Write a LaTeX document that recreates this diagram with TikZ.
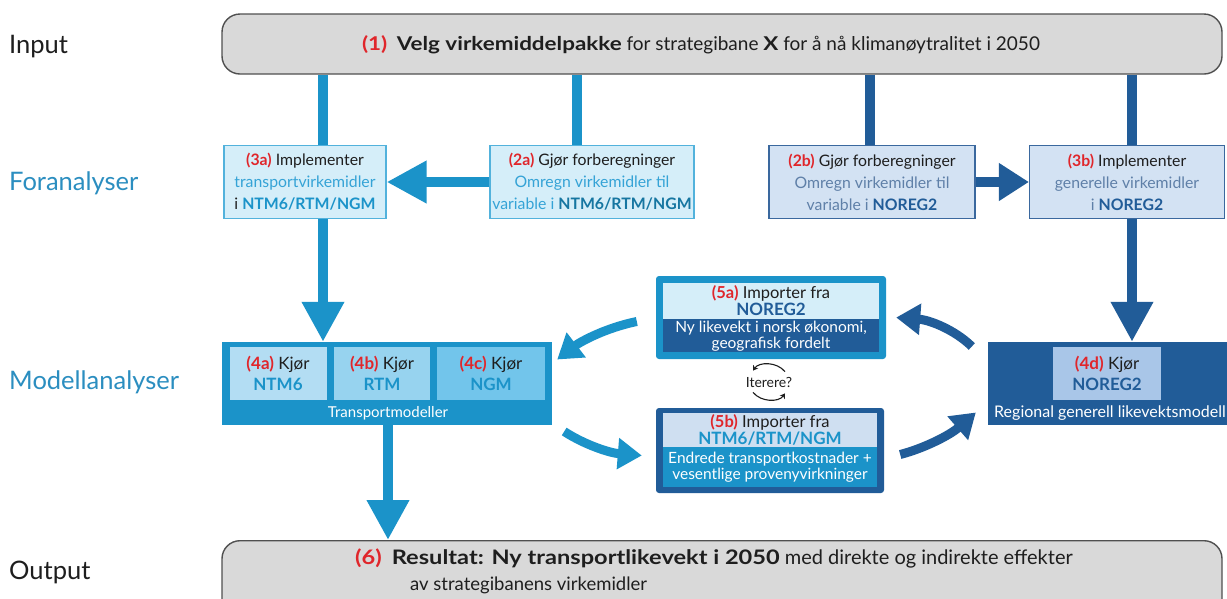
\documentclass[tikz,border=0pt]{standalone}
\usepackage{fontspec}
\setmainfont{Lato}
\newfontfamily\widefont{Lato}[FakeStretch=1.18]
\usetikzlibrary{arrows.meta,calc}
\definecolor{cyb}{HTML}{1B93C9}
\definecolor{dkb}{HTML}{215C98}
\definecolor{ltc}{HTML}{D5EEF9}
\definecolor{ltcb}{HTML}{52B2DC}
\definecolor{ltg}{HTML}{D3E2F3}
\definecolor{ltgb}{HTML}{3A689E}
\definecolor{barg}{HTML}{D9D9D9}
\definecolor{bard}{HTML}{505050}
\definecolor{rd}{HTML}{E0262B}
\definecolor{lbt}{HTML}{35A3D6}
\definecolor{gbt}{HTML}{5F80A8}
\definecolor{labb}{HTML}{2B8EC0}
\definecolor{fa}{HTML}{B3DDF3}
\definecolor{fb}{HTML}{97D3EF}
\definecolor{fc}{HTML}{72C5EB}
\definecolor{fd}{HTML}{A9C6E8}
\definecolor{ftb}{HTML}{CFDFF1}
\definecolor{txt}{HTML}{1E1E1E}
\tikzset{
  lab/.style={font=\fontsize{25.5}{30}\selectfont, text=txt, inner sep=0, anchor=west},
  bar/.style={draw=bard, line width=1.4pt, fill=barg, rounded corners=18pt},
  cbox/.style={draw=ltcb, line width=1.2pt, fill=ltc, align=center, inner sep=0, text=txt,
     font=\fontsize{15.8}{22}\selectfont},
  gbox/.style={draw=ltgb, line width=1.2pt, fill=ltg, align=center, inner sep=0, text=txt,
     font=\fontsize{15.8}{22}\selectfont},
  sub/.style={align=center, inner sep=0, text=txt, font=\fontsize{17}{21}\selectfont},
  wtxt/.style={text=white, inner sep=0, align=center, font=\fontsize{15.5}{16.5}\selectfont},
  cyline/.style={draw=cyb, line width=10pt},
  dkline/.style={draw=dkb, line width=10pt},
  bighead/.style={-{Triangle[width=40pt,length=40pt]}},
  midhead/.style={-{Triangle[width=36pt,length=30pt]}},
  curvhead/.style={line width=9pt, -{Triangle[width=30pt,length=24pt]}},
  itarr/.style={draw=txt, line width=1.1pt, -{Stealth[width=6pt,length=5pt]}},
}
\newcommand{\rn}[1]{{\color{rd}\bfseries #1}}
\newcommand{\wb}[1]{{\widefont\bfseries #1}}
\begin{document}
\begin{tikzpicture}[x=1pt,y=-1pt]
\clip (0,0) rectangle (1227,598);
\fill[white] (0,0) rectangle (1227,598);

% row labels
\node[lab] (lin) at (9,47) {Input};
\node[lab, text=labb] (lfor) at (9,183) {Foranalyser};
\node[lab, text=labb] (lmod) at (9,382) {Modellanalyser};
\node[lab] (lout) at (9,572) {Output};

% input bar
\node[bar, minimum width=1000, minimum height=60] (in) at (722,44) {};
\node[font=\fontsize{19}{22}\selectfont, text=txt, inner sep=0] (intxt) at (701,45)
  {{\color{rd}\wb{(1)}}\enspace\wb{Velg virkemiddelpakke} for strategibane \wb{X} for å nå klimanøytralitet i 2050};

% output bar
\node[bar, minimum width=1000, minimum height=80, anchor=north] (out) at (722,540) {};
\node[font=\fontsize{20}{22}\selectfont, text=txt, inner sep=0, anchor=base west] (outa) at (355,564)
  {{\color{rd}\wb{(6)}}\enspace\wb{Resultat: Ny transportlikevekt i 2050} med direkte og indirekte effekter};
\node[font=\fontsize{18.5}{22}\selectfont, text=txt, inner sep=0, anchor=base west] (outb) at (410,590)
  {av strategibanens virkemidler};

% foranalyse boxes
\node[cbox, minimum width=162, minimum height=73] (n3a) at (305,182)
  {\rn{(3a)} Implementer\\ {\color{lbt}transportvirkemidler}\\ i {\color{cyb}\bfseries NTM6/RTM/NGM}};
\node[cbox, minimum width=204, minimum height=73] (n2a) at (592,182)
  {\rn{(2a)} Gjør forberegninger\\ {\color{lbt}Omregn virkemidler til}\\ {\color{lbt}variable i} {\color{cyb!80!black}\bfseries NTM6/RTM/NGM}};
\node[gbox, minimum width=206, minimum height=73] (n2b) at (872,182)
  {\rn{(2b)} Gjør forberegninger\\ {\color{gbt}Omregn virkemidler til}\\ {\color{gbt}variable i} {\color{dkb}\bfseries NOREG2}};
\node[gbox, minimum width=195, minimum height=73] (n3b) at (1127,182)
  {\rn{(3b)} Implementer\\ {\color{gbt}generelle virkemidler}\\ {\color{gbt}i} {\color{dkb}\bfseries NOREG2}};

% transport models
\node[fill=cyb, minimum width=330, minimum height=83, inner sep=0] (tm) at (387,383.5) {};
\node[sub, fill=fa, minimum width=97, minimum height=53] (n4a) at (278,373.5) {\rn{(4a)} Kjør\\ {\color{cyb}\bfseries NTM6}};
\node[sub, fill=fb, minimum width=96, minimum height=53] (n4b) at (382,373.5) {\rn{(4b)} Kjør\\ {\color{cyb}\bfseries RTM}};
\node[sub, fill=fc, minimum width=108, minimum height=53] (n4c) at (491,373.5) {\rn{(4c)} Kjør\\ {\color{cyb}\bfseries NGM}};
\node[wtxt, font=\fontsize{15}{17}\selectfont] (tmt) at (388,413) {Transportmodeller};

% NOREG2 model
\node[fill=dkb, minimum width=250, minimum height=83, inner sep=0] (gm) at (1113,383.5) {};
\node[sub, fill=fd, minimum width=108, minimum height=53] (n4d) at (1107,373.5) {\rn{(4d)} Kjør\\ {\color{dkb}\bfseries NOREG2}};
\node[wtxt, font=\fontsize{16}{17}\selectfont] (gmt) at (1110,413) {Regional generell likevektsmodell};

% 5a
\node[fill=cyb, rounded corners=3pt, minimum width=230, minimum height=83, inner sep=0] (n5a) at (771,317.5) {};
\node[fill=dkb, minimum width=216, minimum height=69, inner sep=0] (n5ab) at (771,317.5) {};
\node[sub, fill=ltc, minimum width=216, minimum height=36, font=\fontsize{16.5}{19}\selectfont] (n5at) at (771,301)
  {\rn{(5a)} Importer fra\\[-2pt] {\color{dkb}\bfseries\fontsize{17}{19}\selectfont NOREG2}};
\node[wtxt] (n5ax) at (771,336) {Ny likevekt i norsk økonomi,\\ geografisk fordelt};

% 5b
\node[fill=dkb, rounded corners=3pt, minimum width=228, minimum height=85, inner sep=0] (n5b) at (770,450.5) {};
\node[fill=cyb, minimum width=214, minimum height=74, inner sep=0] (n5bb) at (770,450) {};
\node[sub, fill=ftb, minimum width=214, minimum height=34, font=\fontsize{16.5}{19}\selectfont] (n5bt) at (770,430)
  {\rn{(5b)} Importer fra\\[-2pt] {\color{cyb}\bfseries\fontsize{17}{19}\selectfont NTM6/RTM/NGM}};
\node[wtxt] (n5bx) at (770,467) {Endrede transportkostnader +\\ vesentlige provenyvirkninger};

% iterere
\node[text=txt, inner sep=1pt, font=\fontsize{14}{16}\selectfont] (it) at (769,382) {Iterere?};
\draw[itarr] ($(it.north)+(16,-4)$) .. controls ($(it.north)+(8,-14)$) and ($(it.north)+(-10,-14)$) .. ($(it.north)+(-16,-5)$);
\draw[itarr] ($(it.south)+(-16,4)$) .. controls ($(it.south)+(-8,14)$) and ($(it.south)+(10,14)$) .. ($(it.south)+(16,5)$);

% helper coordinates
\coordinate (x1) at (323,0);
\coordinate (x2) at (577,0);
\coordinate (x3) at (870,0);
\coordinate (x4) at (1132,0);
\coordinate (x5) at (388,0);

% straight connectors
\draw[cyline] (in.south -| x1) -- (n3a.north -| x1);
\draw[cyline] (in.south -| x2) -- (n2a.north -| x2);
\draw[dkline] (in.south -| x3) -- (n2b.north -| x3);
\draw[dkline] (in.south -| x4) -- (n3b.north -| x4);
\draw[cyline, bighead] (n2a.west) -- (n3a.east);
\draw[dkline, midhead] (n2b.east) -- (n3b.west);
\draw[cyline, bighead] (n3a.south -| x1) -- (tm.north -| x1);
\draw[dkline, bighead] (n3b.south -| x4) -- (gm.north -| x4);
\draw[cyline, bighead] (tm.south -| x5) -- (out.north -| x5);

% curved connectors
\coordinate (a1s) at ($(n5a.west)+(-19,4)$);
\coordinate (a1e) at ($(tm.east)+(5,-24)$);
\coordinate (a2s) at ($(tm.east)+(12,48)$);
\coordinate (a2e) at ($(n5b.west)+(-14,5)$);
\coordinate (a3s) at ($(gm.west)+(-16,-37)$);
\coordinate (a3e) at ($(n5a.east)+(10,0)$);
\coordinate (a4s) at ($(n5b.east)+(16,4)$);
\coordinate (a4e) at ($(gm.west)+(-12,29)$);
\draw[draw=cyb, curvhead] (a1s) .. controls (605,328) and (580,342) .. (a1e);
\draw[draw=cyb, curvhead] (a2s) .. controls (585,445) and (610,453) .. (a2e);
\draw[draw=dkb, curvhead] (a3s) .. controls (955,330) and (930,320) .. (a3e);
\draw[draw=dkb, curvhead] (a4s) .. controls (925,448) and (950,435) .. (a4e);
\end{tikzpicture}
\end{document}
